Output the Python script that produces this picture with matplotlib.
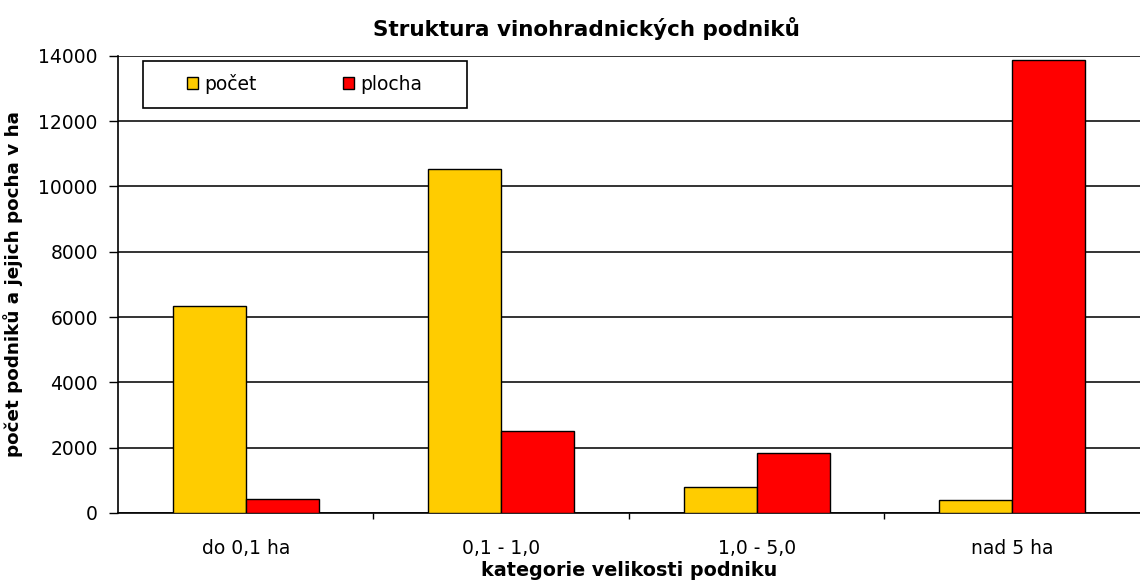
import numpy as np
import matplotlib
matplotlib.use('Agg')
import matplotlib.pyplot as plt
from matplotlib.patches import Rectangle

plt.rcParams['font.family'] = ['DejaVu Sans']

categories = ["do 0,1 ha", "0,1 - 1,0", "1,0 - 5,0", "nad 5 ha"]
pocet = [6330, 10550, 800, 400]
plocha = [420, 2500, 1830, 13880]

fig = plt.figure(figsize=(11.4, 5.86), dpi=100)
ax = fig.add_axes([0.1035, 0.1246, 0.8965, 0.78])

x = np.arange(len(categories))
w = 0.286
ax.bar(x - w/2, pocet, w, color="#FFCC00", edgecolor="black", linewidth=1, label="počet", zorder=3)
ax.bar(x + w/2, plocha, w, color="#FF0000", edgecolor="black", linewidth=1, label="plocha", zorder=3)

ax.set_ylim(0, 14000)
ax.set_xlim(-0.5, 3.5)
ax.set_yticks(range(0, 14001, 2000))
ax.yaxis.grid(True, color="#111111", linewidth=1.2, zorder=0)
ax.set_xticks(x)
ax.set_xticklabels(categories, fontsize=13.5)
ax.set_xticks([0.5, 1.5, 2.5], minor=True)
ax.tick_params(axis='x', which='major', length=0, pad=19)
ax.tick_params(axis='x', which='minor', length=4.3, width=1, direction='out')
ax.tick_params(axis='y', length=6.5, width=1, pad=8, labelsize=13.5)
for s in ["top", "right"]:
    ax.spines[s].set_visible(False)
ax.spines["left"].set_linewidth(1.2)
ax.spines["bottom"].set_linewidth(1.2)

ax.set_title("Struktura vinohradnických podniků", fontsize=15.5, fontweight="bold", pad=14, x=0.458)
ax.set_xlabel("kategorie velikosti podniku", fontsize=13.75, fontweight="bold", labelpad=2)
ax.set_ylabel("počet podniků a jejich pocha v ha", fontsize=13.2, fontweight="bold", labelpad=11)

# legend box drawn by hand, entries placed inside it
ax.add_patch(Rectangle((0.0245, 0.886), 0.317, 0.103, transform=ax.transAxes,
                       facecolor="white", edgecolor="black", linewidth=1.2, zorder=4))
leg = ax.legend(loc="center left", bbox_to_anchor=(0.0675, 0.939), ncol=2, frameon=False,
                fontsize=13.5, handlelength=0.6, handleheight=0.6, handletextpad=0.32,
                columnspacing=4.6, borderpad=0, borderaxespad=0)
leg.set_zorder(5)

fig.savefig("out.png", dpi=100)
